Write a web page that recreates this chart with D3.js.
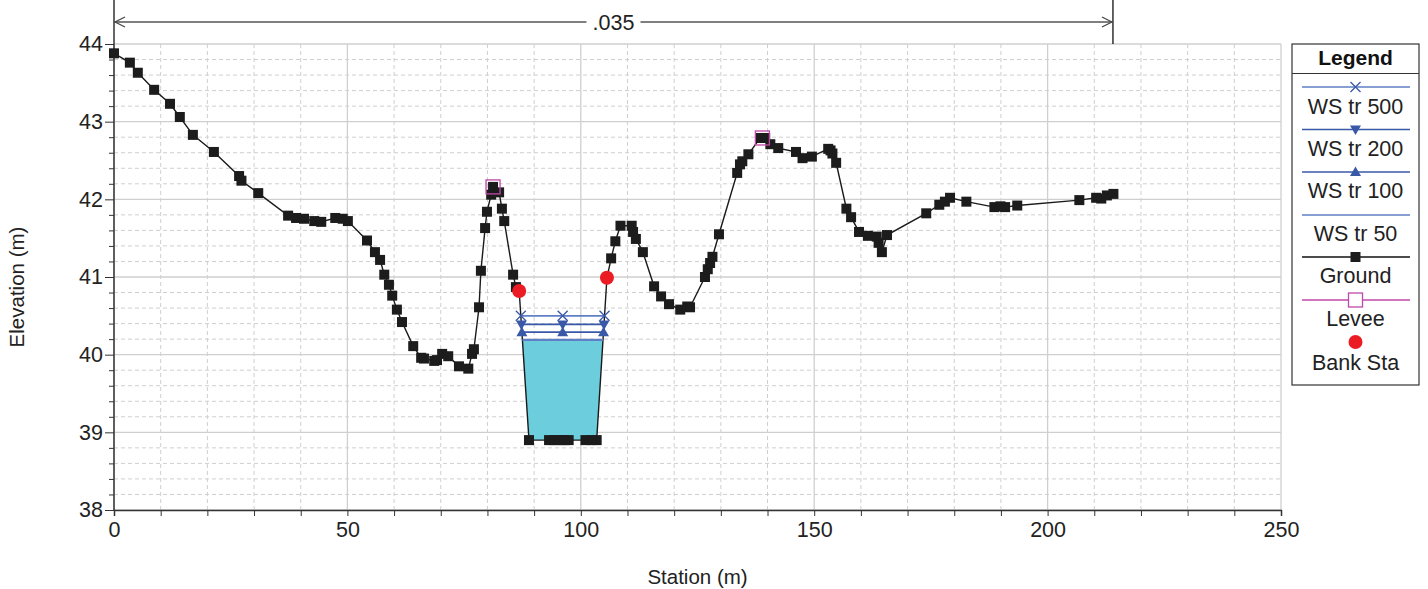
<!DOCTYPE html>
<html>
<head>
<meta charset="utf-8">
<script src="https://cdn.jsdelivr.net/npm/d3@7"></script>
<style>
  html, body { margin: 0; padding: 0; background: #fff; }
  svg { display: block; font-family: "Liberation Sans", Arial, sans-serif; }
</style>
</head>
<body>
<svg id="chart" width="1428" height="589"></svg>
<script>
// ---------- data ----------
const groundStation = [0, 3.4, 5.1, 8.6, 12.0, 14.1, 16.9, 21.4, 26.8, 27.3, 30.9, 37.3, 39.0, 40.7, 42.9, 44.4, 47.4, 49.0, 50.1,
  54.2, 55.9, 57.0, 57.9, 58.9, 59.6, 60.6, 61.7, 64.1, 65.8, 66.4, 68.6, 69.2, 70.3, 71.6, 73.9, 75.9, 76.7, 77.1,
  78.2, 78.6, 79.5, 79.9, 80.8, 81.2, 82.5, 83.1, 83.6, 85.5, 86.1, 86.8,
  88.9, 93.2, 94.3, 95.4, 96.5, 97.4, 101.0, 102.3, 103.4,
  105.6, 106.5, 107.4, 108.5, 110.9, 111.2, 111.8, 113.3, 115.7, 117.2, 118.9, 121.3, 122.8, 123.4,
  126.6, 127.2, 127.7, 128.2, 129.6, 133.5, 134.1, 134.6, 135.9, 138.4, 139.5, 140.6, 142.3, 146.1, 147.5, 149.5,
  153.0, 153.5, 153.9, 154.7, 156.9, 157.9, 159.6, 161.5, 163.4, 163.8, 164.5, 165.6, 174.0, 176.8, 178.0, 179.1,
  182.6, 188.6, 189.9, 190.9, 193.5, 206.8, 210.4, 211.5, 212.7, 214.1];
const groundElev = [43.88, 43.76, 43.63, 43.41, 43.23, 43.06, 42.83, 42.61, 42.30, 42.24, 42.08, 41.79, 41.76, 41.75, 41.72, 41.71, 41.76, 41.75, 41.72,
  41.47, 41.32, 41.22, 41.03, 40.90, 40.76, 40.58, 40.42, 40.11, 39.96, 39.95, 39.92, 39.93, 40.01, 39.98, 39.85, 39.82, 40.01, 40.07,
  40.61, 41.08, 41.63, 41.84, 42.06, 42.16, 42.09, 41.88, 41.72, 41.03, 40.87, 40.82,
  38.90, 38.90, 38.90, 38.90, 38.90, 38.90, 38.90, 38.90, 38.90,
  40.99, 41.24, 41.46, 41.66, 41.66, 41.58, 41.49, 41.32, 40.88, 40.75, 40.65, 40.58, 40.62, 40.61,
  41.00, 41.10, 41.18, 41.26, 41.55, 42.34, 42.45, 42.49, 42.58, 42.79, 42.79, 42.71, 42.66, 42.61, 42.53, 42.55,
  42.65, 42.63, 42.59, 42.47, 41.88, 41.77, 41.58, 41.53, 41.52, 41.44, 41.32, 41.54, 41.82, 41.93, 41.97, 42.02,
  41.97, 41.90, 41.91, 41.90, 41.92, 41.99, 42.02, 42.01, 42.05, 42.07];

const leveeStation = [81.2, 138.9];
const leveeElev = [42.16, 42.79];
const bankStation = [86.8, 105.6];
const bankElev = [40.82, 40.99];

const wsNames = ["WS tr 500", "WS tr 200", "WS tr 100", "WS tr 50"];
const wsElev = [40.50, 40.39, 40.29, 40.19];
const wsMarker = ["x", "down", "up", "none"];

const manningN = ".035";
const manningFrom = 0, manningTo = 214.0;

const xTicks = [0, 50, 100, 150, 200, 250];
const yTicks = [38, 39, 40, 41, 42, 43, 44];

const legendItems = ["WS tr 500", "WS tr 200", "WS tr 100", "WS tr 50", "Ground", "Levee", "Bank Sta"];

// ---------- layout ----------
const svg = d3.select("#chart");
const L = 114, R = 1281, T = 44, B = 510;
const x = d3.scaleLinear().domain([0, 250]).range([L, R]);
const y = d3.scaleLinear().domain([38, 44]).range([B, T]);

const wsColor = ["#5f7fc4", "#3a58a8", "#3a58a8", "#5f7fc4"];
const gridColor = "#cfcfcf";

const ground = groundStation.map((s, i) => ({ s, e: groundElev[i] }));

// ---------- grid ----------
const grid = svg.append("g");
d3.range(0, 251, 10).forEach(v => {
  const major = v % 50 === 0;
  grid.append("line").attr("x1", x(v)).attr("x2", x(v)).attr("y1", T).attr("y2", B)
    .attr("stroke", gridColor).attr("stroke-width", major ? 1.3 : 1)
    .attr("stroke-dasharray", major ? null : "4,3");
});
d3.range(0, 31).map(i => 38 + i * 0.2).forEach((v, i) => {
  const major = i % 5 === 0;
  grid.append("line").attr("x1", L).attr("x2", R).attr("y1", y(v)).attr("y2", y(v))
    .attr("stroke", gridColor).attr("stroke-width", major ? 1.3 : 1)
    .attr("stroke-dasharray", major ? null : "4,3");
});

// ---------- axes ----------
const xAxis = d3.axisBottom(x).tickValues(d3.range(0, 251, 10)).tickSize(6)
  .tickFormat(d => xTicks.includes(d) ? d : "");
const gx = svg.append("g").attr("transform", `translate(0,${B})`).call(xAxis);
gx.select(".domain").attr("stroke", "#333").attr("stroke-width", 1.5);
gx.selectAll(".tick line").attr("stroke", "#333");
gx.selectAll(".tick text").attr("font-size", 21.5).attr("fill", "#222").attr("dy", "0.85em")
  .attr("font-family", "Liberation Sans, Arial, sans-serif");

const yAxis = d3.axisLeft(y).tickValues(d3.range(0, 31).map(i => +(38 + i * 0.2).toFixed(1)))
  .tickSize(0).tickFormat(d => yTicks.includes(d) ? d : "");
const gy = svg.append("g").attr("transform", `translate(${L},0)`).call(yAxis);
gy.select(".domain").remove();
gy.selectAll(".tick line").remove();
gy.selectAll(".tick").append("line")
  .attr("x1", d => yTicks.includes(d) ? -9 : -5).attr("x2", 0)
  .attr("stroke", "#333");
gy.selectAll(".tick text").attr("font-size", 21.5).attr("fill", "#222").attr("x", -11)
  .attr("font-family", "Liberation Sans, Arial, sans-serif");
// left axis line extends to top of image
svg.append("line").attr("x1", L).attr("x2", L).attr("y1", 0).attr("y2", B)
  .attr("stroke", "#333").attr("stroke-width", 1.5);

svg.append("text").attr("x", (L + R) / 2).attr("y", 584).attr("text-anchor", "middle")
  .attr("font-size", 20.5).attr("fill", "#222").text("Station (m)");
svg.append("text").attr("transform", `translate(24,${(T + B) / 2 + 10}) rotate(-90)`).attr("text-anchor", "middle")
  .attr("font-size", 20.5).attr("fill", "#222").text("Elevation (m)");

// ---------- Manning's n annotation ----------
const ay = 22;
svg.append("line").attr("x1", x(manningTo)).attr("x2", x(manningTo)).attr("y1", 0).attr("y2", T)
  .attr("stroke", "#111").attr("stroke-width", 1.3);
svg.append("line").attr("x1", x(manningFrom)).attr("x2", x(manningTo)).attr("y1", ay).attr("y2", ay)
  .attr("stroke", "#555").attr("stroke-width", 1.3);
svg.append("path").attr("d", `M${x(manningFrom) + 11},${ay - 5} L${x(manningFrom) + 1},${ay} L${x(manningFrom) + 11},${ay + 5}`)
  .attr("fill", "none").attr("stroke", "#444").attr("stroke-width", 1.2);
svg.append("path").attr("d", `M${x(manningTo) - 11},${ay - 5} L${x(manningTo) - 1},${ay} L${x(manningTo) - 11},${ay + 5}`)
  .attr("fill", "none").attr("stroke", "#444").attr("stroke-width", 1.2);
const midX = (x(manningFrom) + x(manningTo)) / 2;
svg.append("rect").attr("x", midX - 27).attr("y", ay - 11).attr("width", 54).attr("height", 22).attr("fill", "#fff");
svg.append("text").attr("x", midX).attr("y", ay + 8).attr("text-anchor", "middle")
  .attr("font-size", 21.5).attr("fill", "#222").text(manningN);

// ---------- water surfaces ----------
const minIdx = d3.minIndex(ground, d => d.e);
function crossings(ws) {
  let i = minIdx;
  while (i > 0 && ground[i - 1].e < ws) i--;
  const a = ground[i - 1], b = ground[i];
  const ls = a.s + (ws - a.e) / (b.e - a.e) * (b.s - a.s);
  let j = minIdx;
  while (j < ground.length - 1 && ground[j + 1].e < ws) j++;
  const c = ground[j], d = ground[j + 1];
  const rs = c.s + (ws - c.e) / (d.e - c.e) * (d.s - c.s);
  return { ls, rs, i, j };
}

const low = wsElev[wsElev.length - 1];
const cl = crossings(low);
const poly = [{ s: cl.ls, e: low }].concat(ground.slice(cl.i, cl.j + 1)).concat([{ s: cl.rs, e: low }]);
svg.append("path").attr("d", d3.line().x(d => x(d.s)).y(d => y(d.e))(poly) + "Z")
  .attr("fill", "#6ccddc").attr("stroke", "none");

const wsG = svg.append("g");
wsElev.forEach((ws, k) => {
  const c = crossings(ws);
  wsG.append("line").attr("x1", x(c.ls)).attr("x2", x(c.rs)).attr("y1", y(ws)).attr("y2", y(ws))
    .attr("stroke", wsColor[k]).attr("stroke-width", k === 3 ? 2.2 : 1.6);
});

// ---------- ground ----------
svg.append("path").datum(ground)
  .attr("d", d3.line().x(d => x(d.s)).y(d => y(d.e)))
  .attr("fill", "none").attr("stroke", "#1a1a1a").attr("stroke-width", 1.4);
svg.append("g").selectAll("rect").data(ground).join("rect")
  .attr("x", d => x(d.s) - 5).attr("y", d => y(d.e) - 5)
  .attr("width", 10).attr("height", 10).attr("fill", "#1c1c1c");

function drawMarker(g, type, cx, cy, color) {
  if (type === "x") {
    g.append("path").attr("d", `M${cx - 5},${cy - 5}L${cx + 5},${cy + 5}M${cx - 5},${cy + 5}L${cx + 5},${cy - 5}`)
      .attr("stroke", color).attr("stroke-width", 1.3).attr("fill", "none");
  } else if (type === "down") {
    g.append("path").attr("d", `M${cx - 5.5},${cy - 4}L${cx + 5.5},${cy - 4}L${cx},${cy + 5.5}Z`).attr("fill", color);
  } else if (type === "up") {
    g.append("path").attr("d", `M${cx - 5.5},${cy + 4}L${cx + 5.5},${cy + 4}L${cx},${cy - 5.5}Z`).attr("fill", color);
  }
}
wsElev.forEach((ws, k) => {
  if (wsMarker[k] === "none") return;
  const c = crossings(ws);
  [c.ls, (c.ls + c.rs) / 2, c.rs].forEach(s => drawMarker(wsG, wsMarker[k], x(s), y(ws), "#3a58a8"));
});
wsG.raise();

// levee
svg.append("g").selectAll("rect").data(leveeStation).join("rect")
  .attr("x", (d) => x(d) - 7).attr("y", (d, i) => y(leveeElev[i]) - 7)
  .attr("width", 14).attr("height", 14).attr("fill", "none").attr("stroke", "#c048a8").attr("stroke-width", 1.3);

// bank stations
svg.append("g").selectAll("circle").data(bankStation).join("circle")
  .attr("cx", d => x(d)).attr("cy", (d, i) => y(bankElev[i])).attr("r", 7).attr("fill", "#ec1c24");

// ---------- legend ----------
const lg = svg.append("g");
const LX0 = 1292, LX1 = 1419, LY0 = 44, LY1 = 385;
const lcx = (LX0 + LX1) / 2;
lg.append("rect").attr("x", LX0).attr("y", LY0).attr("width", LX1 - LX0).attr("height", LY1 - LY0)
  .attr("fill", "#fff").attr("stroke", "#333").attr("stroke-width", 1.2);
lg.append("line").attr("x1", LX0).attr("x2", LX1).attr("y1", 73.5).attr("y2", 73.5).attr("stroke", "#333").attr("stroke-width", 1.2);
lg.append("text").attr("x", lcx).attr("y", 65).attr("text-anchor", "middle").attr("font-size", 21)
  .attr("font-weight", "bold").attr("fill", "#111").text("Legend");
const lineY = [87, 129.5, 172, 215, 257, 300, 342];
const textY = [114, 156, 198, 241, 283, 326, 370];
const lColors = ["#5f7fc4", "#3a58a8", "#3a58a8", "#5f7fc4", "#111", "#c048a8", null];
legendItems.forEach((name, i) => {
  if (lColors[i]) {
    lg.append("line").attr("x1", 1302).attr("x2", 1410).attr("y1", lineY[i]).attr("y2", lineY[i])
      .attr("stroke", lColors[i]).attr("stroke-width", 1.4);
  }
  if (i < 3) drawMarker(lg, wsMarker[i], lcx, lineY[i], "#3a58a8");
  if (i === 4) lg.append("rect").attr("x", lcx - 5).attr("y", lineY[i] - 5).attr("width", 10).attr("height", 10).attr("fill", "#1c1c1c");
  if (i === 5) lg.append("rect").attr("x", lcx - 7).attr("y", lineY[i] - 7).attr("width", 14).attr("height", 14)
    .attr("fill", "#fff").attr("stroke", "#c048a8").attr("stroke-width", 1.3);
  if (i === 6) lg.append("circle").attr("cx", lcx).attr("cy", lineY[i]).attr("r", 7).attr("fill", "#ec1c24");
  lg.append("text").attr("x", lcx).attr("y", textY[i]).attr("text-anchor", "middle").attr("font-size", 21.5)
    .attr("fill", "#222").text(name);
});
</script>
</body>
</html>
